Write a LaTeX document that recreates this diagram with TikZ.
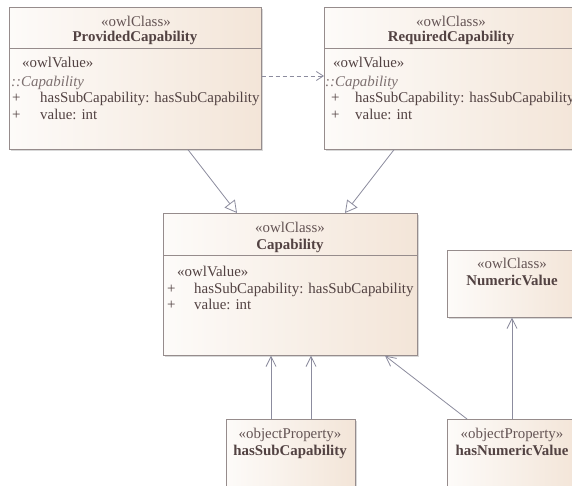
\documentclass[tikz,border=0pt]{standalone}
\usepackage{fontspec}
\setmainfont{Liberation Serif}
\usetikzlibrary{arrows.meta,shadows}
\definecolor{txt}{RGB}{82,66,66}
\definecolor{stc}{RGB}{100,84,84}
\definecolor{itc}{RGB}{125,112,112}
\definecolor{edgec}{RGB}{150,140,140}
\definecolor{linec}{RGB}{140,140,158}
\definecolor{fillL}{RGB}{253,251,249}
\definecolor{fillR}{RGB}{243,229,216}
\tikzset{
  umlbox/.style={draw=edgec, line width=0.7pt, left color=fillL, right color=fillR,
    inner sep=0pt, anchor=north west,
    drop shadow={shadow xshift=1.5pt, shadow yshift=-1.5pt, opacity=0.3, fill=gray}},
  divider/.style={draw=edgec, line width=0.7pt},
  tx/.style={inner sep=0pt, text=txt, font=\fontsize{14.9}{17}\selectfont},
  st/.style={tx, text=stc, anchor=base},
  ttl/.style={tx, anchor=base, font=\fontsize{14.9}{17}\selectfont\bfseries},
  lt/.style={tx, anchor=base west},
  itl/.style={tx, anchor=base west, text=itc, font=\fontsize{14.9}{17}\selectfont\itshape},
  gen/.style={draw=linec, line width=0.8pt, -{Triangle[length=12pt,width=13pt,fill=white]}},
  assoc/.style={draw=linec, line width=0.8pt, -{Straight Barb[length=10pt,width=10pt]}},
  dep/.style={draw=linec, line width=0.8pt, dash pattern=on 4pt off 3pt, -{Straight Barb[length=7pt,width=9pt]}}
}
\begin{document}
\begin{tikzpicture}[x=1pt,y=-1pt]
\clip (0,0) rectangle (572,486);
\fill[white] (0,0) rectangle (572,486);

% ProvidedCapability
\node[umlbox, minimum width=252pt, minimum height=142pt] (pc) at (9,7) {};
\draw[divider] ([yshift=-41pt]pc.north west) -- ([yshift=-41pt]pc.north east);
\node[st] (pcs) at (136,27) {«owlClass»};
\node[ttl] (pct) at (135,42) {ProvidedCapability};
\node[lt] (pcv) at (22,68) {«owlValue»};
\node[itl] (pci) at (11,87) {::Capability};
\node[lt] (pcp1) at (12,103) {+};
\node[lt] (pca1) at (40,103) {hasSubCapability: hasSubCapability};
\node[lt] (pcp2) at (12,120) {+};
\node[lt] (pca2) at (40,120) {value: int};

% RequiredCapability
\node[umlbox, minimum width=256pt, minimum height=142pt] (rc) at (324,7) {};
\draw[divider] ([yshift=-41pt]rc.north west) -- ([yshift=-41pt]rc.north east);
\node[st] (rcs) at (451,27) {«owlClass»};
\node[ttl] (rct) at (451,42) {RequiredCapability};
\node[lt] (rcv) at (333,68) {«owlValue»};
\node[itl] (rci) at (325,87) {::Capability};
\node[lt] (rcp1) at (331,103) {+};
\node[lt] (rca1) at (355,103) {hasSubCapability: hasSubCapability};
\node[lt] (rcp2) at (331,120) {+};
\node[lt] (rca2) at (355,120) {value: int};

% Capability
\node[umlbox, minimum width=254pt, minimum height=142pt] (cap) at (163,213) {};
\draw[divider] ([yshift=-42pt]cap.north west) -- ([yshift=-42pt]cap.north east);
\node[st] (caps) at (290,233) {«owlClass»};
\node[ttl] (capt) at (290,249) {Capability};
\node[lt] (capv) at (177,276) {«owlValue»};
\node[lt] (capp1) at (167,293) {+};
\node[lt] (capa1) at (194,293) {hasSubCapability: hasSubCapability};
\node[lt] (capp2) at (167,309) {+};
\node[lt] (capa2) at (194,309) {value: int};

% NumericValue
\node[umlbox, minimum width=130pt, minimum height=67pt] (nv) at (447,250) {};
\node[st] (nvs) at (512,268) {«owlClass»};
\node[ttl] (nvt) at (512,285) {NumericValue};

% hasSubCapability
\node[umlbox, minimum width=129pt, minimum height=90pt] (hs) at (226,419) {};
\node[st] (hss) at (290,438) {«objectProperty»};
\node[ttl] (hst) at (290,455) {hasSubCapability};

% hasNumericValue
\node[umlbox, minimum width=130pt, minimum height=90pt] (hn) at (447,419) {};
\node[st] (hns) at (512,438) {«objectProperty»};
\node[ttl] (hnt) at (512,455) {hasNumericValue};

% connectors
\draw[dep] ([yshift=-69pt]pc.north east) -- ([yshift=-69pt]rc.north west);
\draw[gen] ([xshift=179pt]pc.south west) -- ([xshift=74pt]cap.north west);
\draw[gen] ([xshift=70pt]rc.south west) -- ([xshift=182pt]cap.north west);
\draw[assoc] ([xshift=45pt]hs.north west) -- ([xshift=108pt]cap.south west);
\draw[assoc] ([xshift=85pt]hs.north west) -- ([xshift=148pt]cap.south west);
\draw[assoc] ([xshift=20pt]hn.north west) -- ([xshift=222pt]cap.south west);
\draw[assoc] ([xshift=65pt]hn.north west) -- ([xshift=65pt]nv.south west);
\end{tikzpicture}
\end{document}
